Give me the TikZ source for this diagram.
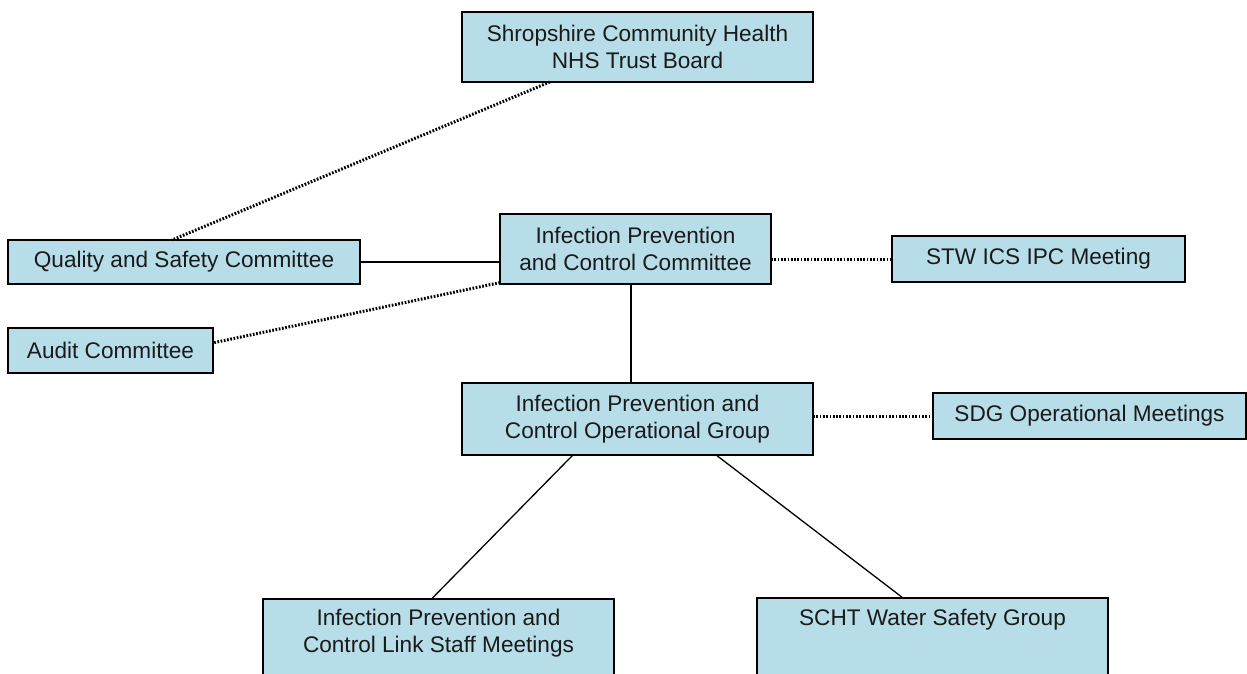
\documentclass[tikz,border=0pt]{standalone}
\usepackage{fontspec}
\setmainfont{Liberation Sans}
\usetikzlibrary{calc}
\definecolor{boxfill}{HTML}{B7DDE8}
\definecolor{txt}{HTML}{1A1A1A}
\begin{document}
\begin{tikzpicture}[x=1pt,y=-1pt,
  box/.style={draw=black, line width=1.2pt, fill=boxfill, text=txt,
    font=\fontsize{22.6}{27}\selectfont, align=center, inner sep=0pt, outer sep=0pt},
  boxtext/.style={text=txt, font=\fontsize{22.6}{27}\selectfont, align=center, inner sep=0pt},
  solidline/.style={line width=1.3pt},
  dotline/.style={line width=3pt, dash pattern=on 1.7pt off 1.6pt}]
\useasboundingbox (0,0) rectangle (1247,674);
\clip (0,0) rectangle (1247,674);
\node[box, minimum width=351pt, minimum height=70pt] (board) at (637.5,47) {Shropshire Community Health\\NHS Trust Board};
\node[box, minimum width=352pt, minimum height=44pt] (qsc) at (184,262) {Quality and Safety Committee};
\node[box, minimum width=271pt, minimum height=70pt] (ipcc) at (635.5,249) {Infection Prevention\\and Control Committee};
\node[box, minimum width=293pt, minimum height=46pt] (stw) at (1038.5,259) {STW ICS IPC Meeting};
\node[box, minimum width=205pt, minimum height=45pt] (audit) at (110.5,350.5) {Audit Committee};
\node[box, minimum width=351pt, minimum height=72pt] (op) at (637.5,419) {Infection Prevention and\\Control Operational Group};
\node[box, minimum width=313pt, minimum height=46pt] (sdg) at (1089.5,416) {SDG Operational Meetings};
\node[box, minimum width=351pt, minimum height=101pt] (link) at (438.5,649.5) {};
\node[boxtext] (linktext) at (438.5,633.5) {Infection Prevention and\\Control Link Staff Meetings};
\node[box, minimum width=351pt, minimum height=102pt] (water) at (932.5,649) {};
\node[boxtext] (watertext) at (932.5,620) {SCHT Water Safety Group};
% connectors
\draw[dotline] ($(board.south west)!0.25!(board.south east)$) -- ($(qsc.north west)!0.466!(qsc.north east)$);
\draw[solidline] (qsc.east) -- (qsc.east -| ipcc.west);
\draw[dotline] ($(ipcc.north west)!0.98!(ipcc.south west)$) -- ($(audit.north east)!0.33!(audit.south east)$);
\draw[dotline] (stw.west -| ipcc.east) -- (stw.west);
\coordinate (ipccbot) at ($(ipcc.south west)!0.483!(ipcc.south east)$);
\draw[solidline] (ipccbot) -- (ipccbot |- op.north);
\draw[dotline] (sdg.west -| op.east) -- (sdg.west);
\draw[solidline] ($(op.south west)!0.316!(op.south east)$) -- ($(link.north west)!0.48!(link.north east)$);
\draw[solidline] ($(op.south west)!0.724!(op.south east)$) -- ($(water.north west)!0.416!(water.north east)$);
\end{tikzpicture}
\end{document}
